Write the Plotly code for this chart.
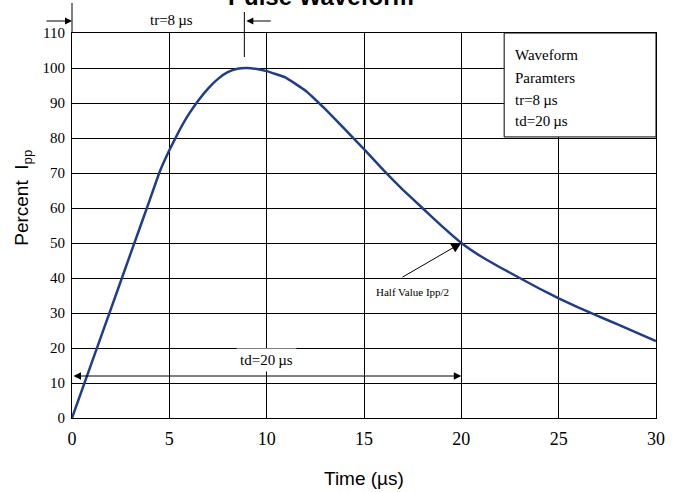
import plotly.graph_objects as go

time_us = [0, 1, 2, 3, 4, 4.5, 5, 5.5, 6, 6.5, 7, 7.5, 8, 8.5, 9, 9.5, 10, 11, 12, 13, 14, 15,
           16, 17, 18, 19, 20, 21, 22, 23, 24, 25, 26, 27, 28, 29, 30]
percent = [0, 15.6, 31.2, 46.8, 62.4, 70.3, 76.5, 82, 86.8, 90.8, 94.2, 96.9, 98.8, 99.8, 100, 99.7, 99.1,
           97.2, 93.5, 88.3, 82.6, 76.8, 70.8, 65.2, 60, 54.8, 50, 46.2, 43, 40, 37, 34.2, 31.6, 29.2,
           26.8, 24.4, 22]

x_ticks = [0, 5, 10, 15, 20, 25, 30]
y_ticks = [0, 10, 20, 30, 40, 50, 60, 70, 80, 90, 100, 110]

serif = "Liberation Serif, Times New Roman, serif"
sans = "Liberation Sans, Arial, sans-serif"

fig = go.Figure()
fig.add_trace(go.Scatter(x=time_us, y=percent, mode="lines",
                         line=dict(color="#1f3d8c", width=2.5, shape="spline", smoothing=0.3),
                         showlegend=False, hoverinfo="skip"))

W, H = 676, 492
L, R, T, B = 72, 11, 33, 74
pw = W - L - R
ph = H - T - B

def px_x(p):
    return (p - L) / pw

def px_y(p):
    return (H - B - p) / ph

fig.update_layout(
    width=W, height=H,
    margin=dict(l=L, r=R, t=T, b=B),
    plot_bgcolor="white", paper_bgcolor="white",
    xaxis=dict(range=[0, 30], tickvals=x_ticks, ticktext=[str(v) for v in x_ticks],
               showgrid=True, gridcolor="black", gridwidth=1,
               showline=True, linecolor="black", linewidth=1, mirror=True,
               zeroline=False, ticks="", ticklabelstandoff=4,
               tickfont=dict(family=serif, size=18, color="black")),
    yaxis=dict(range=[0, 110], tickvals=y_ticks, ticktext=[str(v) for v in y_ticks],
               showgrid=True, gridcolor="black", gridwidth=1,
               showline=True, linecolor="black", linewidth=1, mirror=True,
               zeroline=False, ticks="", ticklabelstandoff=3,
               tickfont=dict(family=serif, size=15, color="black")),
    font=dict(family=serif, color="black"),
)

shapes = []
# parameter box
shapes.append(dict(type="rect", xref="x", yref="y", x0=22.2, x1=30, y0=80.3, y1=110,
                   fillcolor="white", line=dict(color="black", width=1), layer="above"))
# extension lines for tr
shapes.append(dict(type="line", xref="paper", yref="paper", x0=0, x1=0,
                   y0=1.0, y1=px_y(3), line=dict(color="black", width=1)))
shapes.append(dict(type="line", xref="paper", yref="paper", x0=px_x(247), x1=px_x(247),
                   y0=px_y(57), y1=px_y(12), line=dict(color="black", width=1)))
fig.update_layout(shapes=shapes)

ann = []
# title (partly cut at top, as in the reference)
ann.append(dict(text="<b>Pulse Waveform</b>", xref="paper", yref="paper",
                x=px_x(325), y=px_y(12), xanchor="center", yanchor="bottom",
                showarrow=False, font=dict(family=sans, size=24, color="black")))
# tr arrows
ann.append(dict(text="", xref="paper", yref="paper", x=0, y=px_y(21),
                ax=-27, ay=0, showarrow=True, arrowhead=2, arrowsize=1.4,
                arrowwidth=1, arrowcolor="black"))
ann.append(dict(text="", xref="paper", yref="paper", x=px_x(249), y=px_y(21),
                ax=26, ay=0, showarrow=True, arrowhead=2, arrowsize=1.4,
                arrowwidth=1, arrowcolor="black"))
ann.append(dict(text="tr=8\u2009µs", xref="paper", yref="paper",
                x=px_x(173), y=px_y(20), xanchor="center", yanchor="middle",
                showarrow=False, font=dict(family=serif, size=15, color="black")))
# td double arrow
ann.append(dict(text="", x=20, y=12, ax=0, ay=12, xref="x", yref="y",
                axref="x", ayref="y", showarrow=True, arrowhead=2, startarrowhead=2,
                arrowside="end+start", arrowsize=1.5, startarrowsize=1.5,
                arrowwidth=1, arrowcolor="black"))
ann.append(dict(text="td=20\u2009µs", x=10, y=16.6, xref="x", yref="y",
                showarrow=False, bgcolor="white", borderpad=3,
                font=dict(family=serif, size=15, color="black")))
# half value arrow
ann.append(dict(text="", x=20, y=50, ax=16.9, ay=40, xref="x", yref="y",
                axref="x", ayref="y", showarrow=True, arrowhead=2, arrowsize=2,
                arrowwidth=1, arrowcolor="black"))
ann.append(dict(text="Half Value Ipp/2", xref="paper", yref="paper",
                x=px_x(418), y=px_y(292), xanchor="center", yanchor="middle",
                showarrow=False, font=dict(family=serif, size=11, color="black")))
# box text
for txt, py in [("Waveform", 55), ("Paramters", 78), ("tr=8\u2009µs", 100), ("td=20\u2009µs", 121)]:
    ann.append(dict(text=txt, xref="paper", yref="paper", x=px_x(520), y=px_y(py),
                    xanchor="left", yanchor="middle", showarrow=False,
                    font=dict(family=serif, size=15, color="black")))
# axis titles
ann.append(dict(text="Time (µs)", xref="paper", yref="paper", x=px_x(368), y=px_y(478),
                xanchor="center", yanchor="middle", showarrow=False,
                font=dict(family=sans, size=19, color="black")))
ann.append(dict(text="Percent  I<sub>pp</sub>", xref="paper", yref="paper",
                x=px_x(22), y=px_y(198), xanchor="center", yanchor="middle",
                textangle=-90, showarrow=False,
                font=dict(family=sans, size=19, color="black")))
fig.update_layout(annotations=ann)

fig.write_html("out.html", config={"displayModeBar": False},
               post_script="document.body.style.margin='0';")
